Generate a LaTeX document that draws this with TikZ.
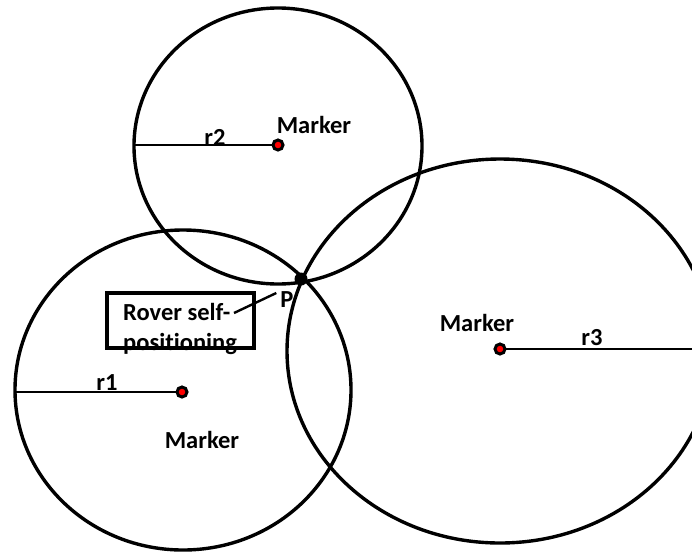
\documentclass[tikz,border=0pt]{standalone}
\usepackage{fontspec}
\setmainfont[Ligatures=NoCommon]{Carlito}
\usetikzlibrary{positioning,shapes.geometric,backgrounds}
\tikzset{
  rangecirc/.style = {ellipse, draw=black, line width=3.4pt, inner sep=0pt, outer sep=0pt},
  markdot/.style   = {circle, draw=black, fill=red, line width=3pt, inner sep=0pt, minimum size=10pt},
  fixpt/.style     = {circle, fill=black, inner sep=0pt, minimum size=13pt},
  radline/.style   = {line width=2.4pt, draw=black},
  lbl/.style       = {font=\fontsize{24.5}{30}\selectfont\bfseries, inner sep=0pt},
  infobox/.style   = {rectangle, draw=black, line width=3.4pt, inner sep=0pt,
                      minimum width=147pt, minimum height=55pt},
}

\begin{document}
\begin{tikzpicture}[x=1pt,y=-1pt]
  \useasboundingbox (0,0) rectangle (692,552);

  % range circles
  \node[rangecirc, minimum width=336pt, minimum height=320pt] (c1) at (183,390) {};
  \node[rangecirc, minimum width=288pt, minimum height=276pt] (c2) at (278,146) {};
  \node[rangecirc, minimum width=426pt, minimum height=384pt] (c3) at (500,351) {};

  % markers
  \node[markdot] (m1) at (182,392) {};
  \node[markdot] (m2) at (278,145) {};
  \node[markdot] (m3) at (500,349) {};
  \node[fixpt] (pt) at (301,279) {};

  % labels
  \node[lbl] (lab1) at (202,440) {Marker};
  \node[lbl] (lab2) at (314,125) {Marker};
  \node[lbl] (lab3) at (477,323) {Marker};
  \node[lbl] (r1) at (107,383) {r1};
  \node[lbl] (r2) at (215,137) {r2};
  \node[lbl] (r3) at (592,338) {r3};
  \node[lbl] (plab) at (287,300) {P};

  % rover box
  \node[infobox] (rovbox) at (180.5,320.5) {};
  \node[lbl, anchor=west, align=left] (rovtxt) at (123,329) {Rover self-\\positioning};
  \coordinate (lead) at (234,313);

  % radius lines
  \begin{scope}[on background layer]
    \draw[radline] (m1.center) -- (m1 -| c1.west);
    \draw[radline] (m2.center) -- (m2 -| c2.west);
    \draw[radline] (m3.center) -- (m3 -| c3.east);
  \end{scope}
  \draw[radline] (lead) -- ([shift={(-4,-7)}]plab.west);
\end{tikzpicture}
\end{document}
